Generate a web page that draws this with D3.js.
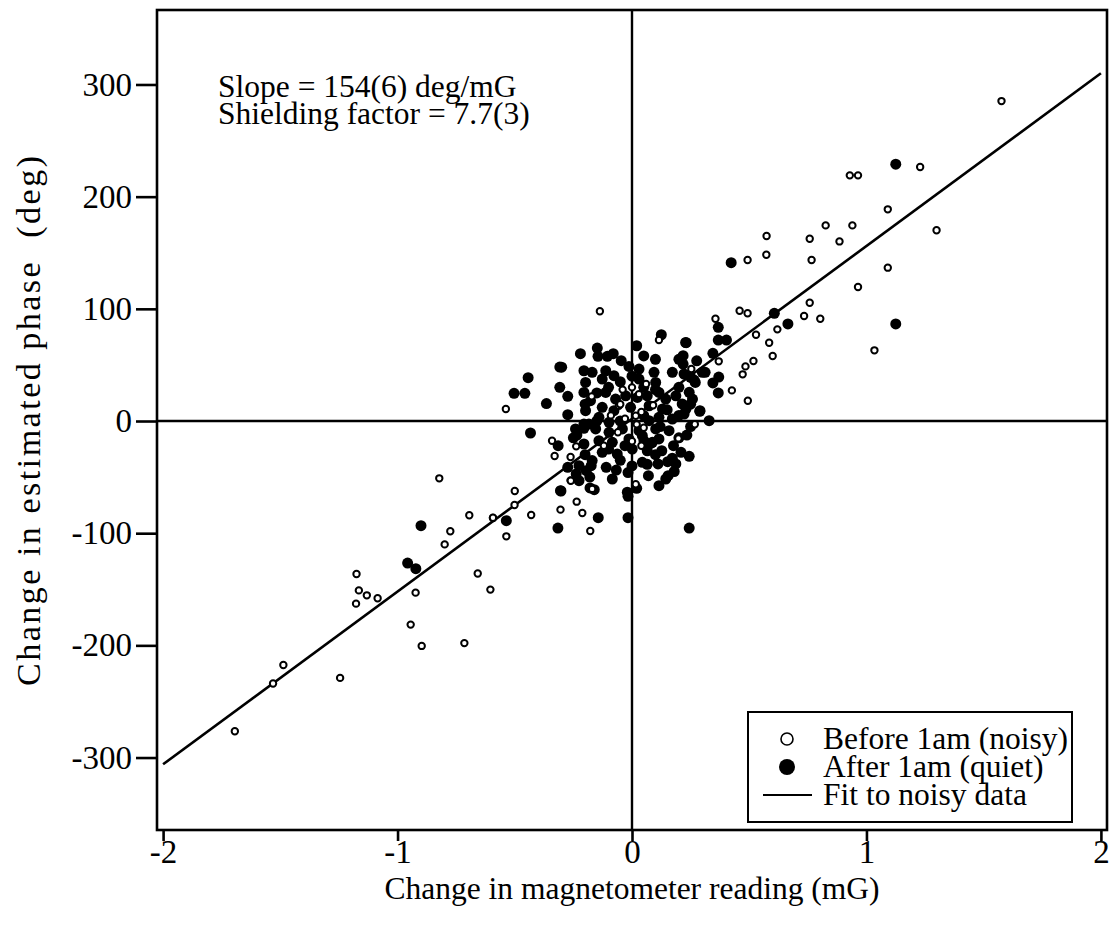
<!DOCTYPE html>
<html>
<head>
<meta charset="utf-8">
<script src="https://cdn.jsdelivr.net/npm/d3@7"></script>
<style>
  html, body { margin: 0; padding: 0; background: #fff; }
  svg { display: block; }
  text { font-family: "Liberation Serif", "Times New Roman", serif; fill: #000; }
</style>
</head>
<body>
<svg id="chart" width="1114" height="938"></svg>
<script>
// ---- data ----
const xTicks = [-2, -1, 0, 1, 2];
const yTicks = [-300, -200, -100, 0, 100, 200, 300];

// Before 1am (noisy) – open circles
const noisyX = [-0.822,-0.694,-0.593,-0.775,-0.799,-1.175,-0.658,-1.165,-1.131,-1.085,-0.923,-0.604,-1.177,-0.944,-0.897,-0.715,-1.487,-1.531,-1.245,-1.694,
  1.576,1.229,0.929,0.964,1.091,1.299,0.826,0.940,0.574,0.758,0.885,0.493,0.573,0.766,1.091,0.964,0.758,0.459,0.493,0.734,0.803,0.620,0.529,0.585,0.600,1.034,0.518,0.484,0.472,0.426,0.494,0.356,0.370,0.253,0.268,
  -0.137,-0.538,0.115,0.198,0.016,-0.262,-0.500,-0.341,-0.238,-0.330,-0.262,-0.261,-0.170,-0.501,-0.430,-0.593,-0.536,-0.305,-0.236,-0.212,-0.178,
  -0.172,-0.056,0.016,-0.04,0.0,0.03,-0.05,0.04,-0.03,0.02,0.05,-0.06,0.0,0.04,-0.09,0.09,-0.12,0.06];
const noisyY = [-51.1,-84,-86.5,-98.3,-110,-136.4,-136,-151,-155.4,-158,-153,-150.3,-162.8,-181.5,-200.5,-198,-217.5,-234,-229,-276.6,
  285.2,226.4,219,219,188.7,170,174.4,174.4,164.9,162.5,160.1,143.5,148.2,143.5,136.7,119.4,105.4,98.3,96,93.6,91.2,81.7,76.9,69.8,57.9,63,53.5,48.7,41.6,27.3,18.1,91.2,53.2,46.3,-2.9,
  97.8,10.7,72.2,-15.5,-56.4,-52.9,-62.4,-17.6,-22.6,-31.2,-32.1,-53.2,-60.5,-74.9,-83.8,-86.2,-102.8,-79,-71.9,-82,-98,
  22,13.6,4.7,28,30,24,15,8,2,-3,-6,-10,-18,-22,5,14,-22,33];

// After 1am (quiet) – filled circles
const quietX = [-0.900,-0.957,-0.922,1.125,0.423,0.665,1.125,0.607,0.368,0.368,0.403,0.231,0.345,0.218,0.218,0.276,0.222,0.265,0.312,0.370,0.345,0.368,0.244,0.258,0.289,0.329,0.222,0.214,
  -0.443,-0.503,-0.457,-0.308,-0.308,-0.274,-0.365,-0.274,-0.148,-0.105,-0.145,-0.046,0.020,0.125,0.229,
  0.234,0.209,0.244,0.172,0.187,0.152,0.111,0.065,0.044,0.144,0.154,0.115,-0.020,-0.084,-0.161,-0.179,-0.303,-0.433,-0.315,-0.235,-0.205,-0.205,
  -0.274,-0.226,-0.170,-0.174,-0.195,-0.238,-0.226,-0.305,-0.110,-0.067,-0.017,-0.017,0.070,0.177,0.127,0.044,0.087,-0.536,-0.316,-0.144,-0.017,0.244,
  -0.300,-0.205,-0.170,-0.112,-0.198,-0.127,-0.077,-0.013,0.030,0.094,0.030,0.101,0.172,0.250,0.270,0.300,
  -0.205,-0.177,-0.112,-0.070,-0.027,0.023,0.065,0.115,0.144,0.187,0.130,0.073,-0.006,-0.077,-0.127,-0.198,0.230,0.290,
  -0.141,-0.098,0.073,0.115,0.172,-0.184,
  -0.155,-0.098,-0.041,0.030,0.101,0.158,-0.141,-0.084,-0.013,0.051,0.115,-0.127,-0.063,0.001,0.065,-0.241,-0.205,
  -0.05,0.0,0.05,0.10,-0.10,-0.15,-0.20,-0.15,-0.05,0.05,0.15,0.20,-0.10,-0.05,0.0,0.10,0.20,-0.20,0.02,0.08,0.18,-0.03,0.12,0.25,0.25,0.20,-0.25,-0.18,0.20,-0.08,0.05,0.10,-0.22];
const quietY = [-93.3,-126.6,-131.6,229,141.1,86.5,86.5,96,83.5,72.2,72.2,69.8,60.3,58.2,50.8,53.7,41.9,36.5,43.4,39.2,33.9,25,25.6,19.6,8.6,0.3,6.2,15.2,
  38.6,24.7,24.7,48.1,30,22,15.5,5.6,65,57.7,57.7,53.8,67.1,76.9,70,
  -12.5,-27.9,-31.5,-33.2,-38.3,-36.3,-38.3,-38.6,-36.8,-51.7,-48.7,-57.7,-63.5,-51.7,-61.2,-59.7,-62.4,-10.7,-22,-12.5,-6.5,-2.7,
  -41.3,-39.8,-35.3,-39.8,-44.3,-47.2,-53.2,-62.1,-41.3,-43.7,-46,-67.1,-48.7,-22,-26.5,-13.1,-19,-88.9,-95.4,-86.2,-86.2,-95.4,
  48,44.8,43.4,44.8,34.4,37.4,40.4,48.7,46.3,43.4,37.4,34.4,43.4,39,34.4,43.4,
  25.5,18.1,25.5,19.6,22.5,21,22.5,25.5,19.6,22.5,10.7,13.6,12.2,9.2,12.2,9.2,10.7,9.2,
  3.3,-1.2,0.3,3.3,1.8,-2.7,
  -7.1,-10.1,-7.1,-8.6,-7.1,-8.6,-17.6,-19,-16,-17.6,-16,-27.9,-29.4,-25,-26.5,-7.1,-20.5,
  35,40,30,28,30,25,15,0,0,5,10,5,-25,-35,-40,-30,-15,-30,-60,-20,-45,-22,-5,-5,15,30,-15,-50,55,60,58,55,60];

// Fit to noisy data (end points)
const fitX = [-2, 2];
const fitY = [-306, 310];

const legendLabels = ["Before 1am (noisy)", "After 1am (quiet)", "Fit to noisy data"];
const noteLines = ["Slope = 154(6) deg/mG", "Shielding factor = 7.7(3)"];
const xTitle = "Change in magnetometer reading (mG)";
const yTitle = "Change in estimated phase\u00A0\u00A0(deg)";

// ---- layout ----
const svg = d3.select("#chart");
const L = 157, R = 1107, T = 10, B = 830;
const x = d3.scaleLinear().domain([-2.026, 2.026]).range([L, R]);
const y = d3.scaleLinear().domain([-364.6, 366.4]).range([B, T]);
const FS = 31.5;
const TFS = 33;

// zero lines
svg.append("line").attr("x1", L).attr("x2", R).attr("y1", y(0)).attr("y2", y(0))
  .attr("stroke", "#000").attr("stroke-width", 2.4);
svg.append("line").attr("x1", x(0)).attr("x2", x(0)).attr("y1", T).attr("y2", B)
  .attr("stroke", "#000").attr("stroke-width", 2.4);

// fit line
svg.append("line")
  .attr("x1", x(fitX[0])).attr("y1", y(fitY[0]))
  .attr("x2", x(fitX[1])).attr("y2", y(fitY[1]))
  .attr("stroke", "#000").attr("stroke-width", 2.6);

// quiet (filled)
svg.append("g").selectAll("circle").data(quietX.map((v, i) => [v, quietY[i]]))
  .join("circle")
  .attr("cx", d => x(d[0])).attr("cy", d => y(d[1])).attr("r", 5.5)
  .attr("fill", "#000");

// noisy (open)
svg.append("g").selectAll("circle").data(noisyX.map((v, i) => [v, noisyY[i]]))
  .join("circle")
  .attr("cx", d => x(d[0])).attr("cy", d => y(d[1])).attr("r", 3.2)
  .attr("fill", "#fff").attr("stroke", "#000").attr("stroke-width", 2);

// frame
svg.append("rect").attr("x", L).attr("y", T).attr("width", R - L).attr("height", B - T)
  .attr("fill", "none").attr("stroke", "#000").attr("stroke-width", 2.6);

// axes
const xAxis = d3.axisBottom(x).tickValues(xTicks).tickSize(11).tickPadding(-1)
  .tickFormat(d => String(d));
const gx = svg.append("g").attr("transform", `translate(0,${B})`).call(xAxis);
gx.select(".domain").remove();
gx.selectAll(".tick line").attr("stroke", "#000").attr("stroke-width", 2.6);
gx.selectAll(".tick text").style("font-size", TFS + "px")
  .style("font-family", "Liberation Serif").attr("fill", "#000");

const yAxis = d3.axisLeft(y).tickValues(yTicks).tickSize(21).tickPadding(4)
  .tickFormat(d => String(d));
const gy = svg.append("g").attr("transform", `translate(${L},0)`).call(yAxis);
gy.select(".domain").remove();
gy.selectAll(".tick line").attr("stroke", "#000").attr("stroke-width", 2.6);
gy.selectAll(".tick text").style("font-size", TFS + "px")
  .style("font-family", "Liberation Serif").attr("fill", "#000");

// axis titles
svg.append("text").attr("x", x(0)).attr("y", 899).attr("text-anchor", "middle")
  .style("font-size", FS + "px").text(xTitle);
svg.append("text").attr("transform", `translate(40,${y(0)}) rotate(-90)`)
  .attr("text-anchor", "middle").style("font-size", "34px")
  .attr("textLength", 530).attr("lengthAdjust", "spacing").text(yTitle);

// note
noteLines.forEach((t, i) => {
  svg.append("text").attr("x", 218).attr("y", 97 + i * 27)
    .style("font-size", FS + "px").text(t);
});

// legend
const lg = svg.append("g");
lg.append("rect").attr("x", 748).attr("y", 712).attr("width", 324).attr("height", 110)
  .attr("fill", "#fff").attr("stroke", "#000").attr("stroke-width", 2);
const rows = [739, 767, 795];
lg.append("circle").attr("cx", 787).attr("cy", rows[0]).attr("r", 6)
  .attr("fill", "#fff").attr("stroke", "#000").attr("stroke-width", 1.6);
lg.append("circle").attr("cx", 787).attr("cy", rows[1]).attr("r", 8).attr("fill", "#000");
lg.append("line").attr("x1", 763).attr("x2", 812).attr("y1", rows[2]).attr("y2", rows[2])
  .attr("stroke", "#000").attr("stroke-width", 2);
legendLabels.forEach((t, i) => {
  lg.append("text").attr("x", 823).attr("y", rows[i] + 10)
    .style("font-size", FS + "px").text(t);
});
</script>
</body>
</html>
